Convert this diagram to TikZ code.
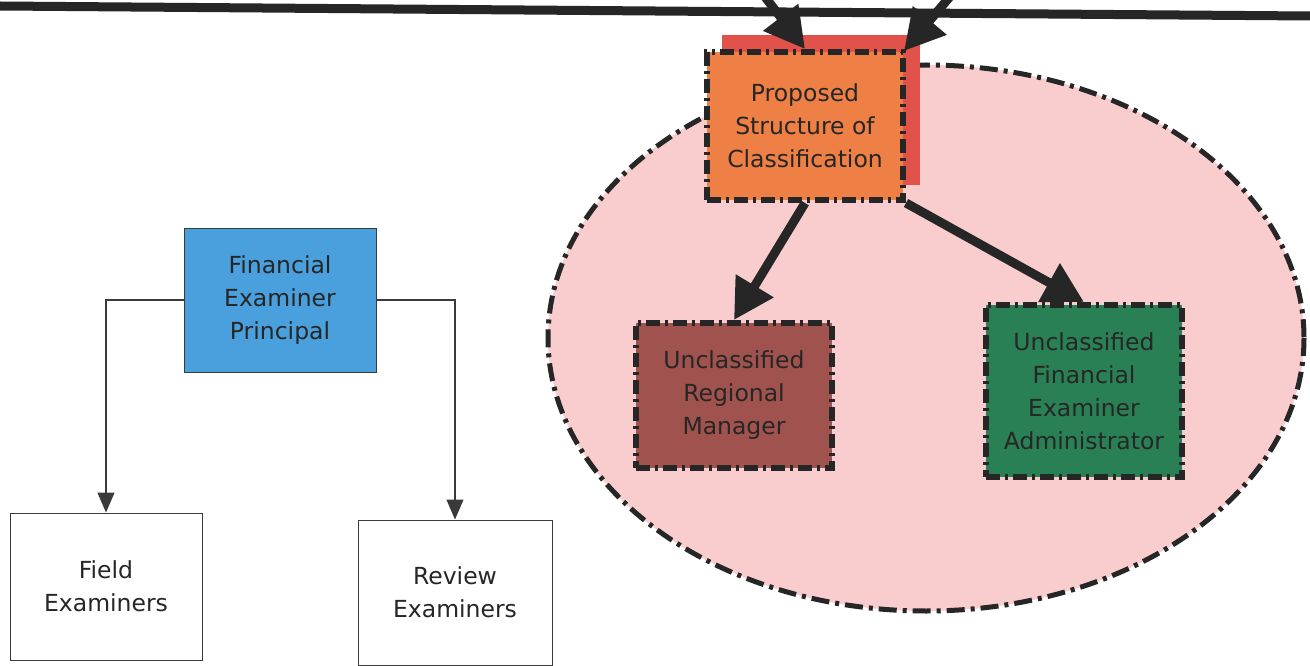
\documentclass[tikz,border=0pt]{standalone}
\usepackage{fontspec}
\setmainfont{DejaVu Sans}
\usetikzlibrary{arrows.meta,calc}
\definecolor{pinkfill}{HTML}{F9CDCD}
\definecolor{orangefill}{HTML}{EE8046}
\definecolor{shadowred}{HTML}{E0524A}
\definecolor{brownfill}{HTML}{A0524E}
\definecolor{greenfill}{HTML}{2A8055}
\definecolor{bluefill}{HTML}{4AA0DC}
\definecolor{ink}{HTML}{262626}
\definecolor{thinline}{HTML}{3A3A3A}
\tikzset{
  boxtxt/.style={font=\fontsize{23.5}{33}\selectfont, text=ink, align=center, inner sep=0pt},
  plainbox/.style={boxtxt, draw=thinline, line width=1pt, minimum width=192pt},
  dashbox/.style={boxtxt, draw=ink, line width=6pt, dash pattern=on 14pt off 5pt on 3pt off 5pt, minimum width=196pt},
  thinarrow/.style={draw=thinline, line width=1.2pt, -{Triangle[length=20pt,width=17pt]}},
  bigarrow/.style={draw=ink, line width=9pt, -{Triangle[length=40pt,width=42pt]}}
}
\begin{document}
\begin{tikzpicture}[x=1pt,y=-1pt]
\useasboundingbox (0,0) rectangle (1310,666);
\clip (0,0) rectangle (1310,666);
\fill[white] (0,0) rectangle (1310,666);
% ellipse group
\draw[fill=pinkfill, draw=ink, line width=5pt, dash pattern=on 18pt off 6pt on 4pt off 6pt] (926,338) ellipse [x radius=378, y radius=273];
% top bar
\coordinate (barL) at (0,6);
\coordinate (barR) at (1310,16);
\draw[ink, line width=9pt] (barL) -- (barR);
% shadow of proposed box
\fill[shadowred] (722,35) rectangle (920,185);
% nodes
\node[dashbox, fill=orangefill, minimum height=148pt] (prop) at (805,126) {Proposed\\Structure of\\Classification};
\node[dashbox, fill=brownfill, minimum height=145pt] (rm) at (734,395.5) {Unclassified\\Regional\\Manager};
\node[dashbox, fill=greenfill, minimum height=172pt] (fea) at (1084,391) {Unclassified\\Financial\\Examiner\\Administrator};
\node[plainbox, fill=bluefill, minimum height=144pt] (fep) at (280,300) {Financial\\Examiner\\Principal};
\node[plainbox, minimum height=147pt] (field) at (106,586.5) {Field\\Examiners};
\node[plainbox, minimum width=194pt, minimum height=145pt] (review) at (455,592.5) {Review\\Examiners};
% connectors
\coordinate (srcL) at (752,-20);
\coordinate (srcR) at (964,-20);
\draw[bigarrow] (srcL) -- (prop.north);
\draw[bigarrow] (srcR) -- ($(prop.north east)+(-2,2)$);
\draw[bigarrow] (prop.south) -- (rm.north);
\draw[bigarrow] (prop.south east) -- (fea.north);
\draw[thinarrow] (fep.west) -| (field.north);
\draw[thinarrow] (fep.east) -| (review.north);
\end{tikzpicture}
\end{document}
